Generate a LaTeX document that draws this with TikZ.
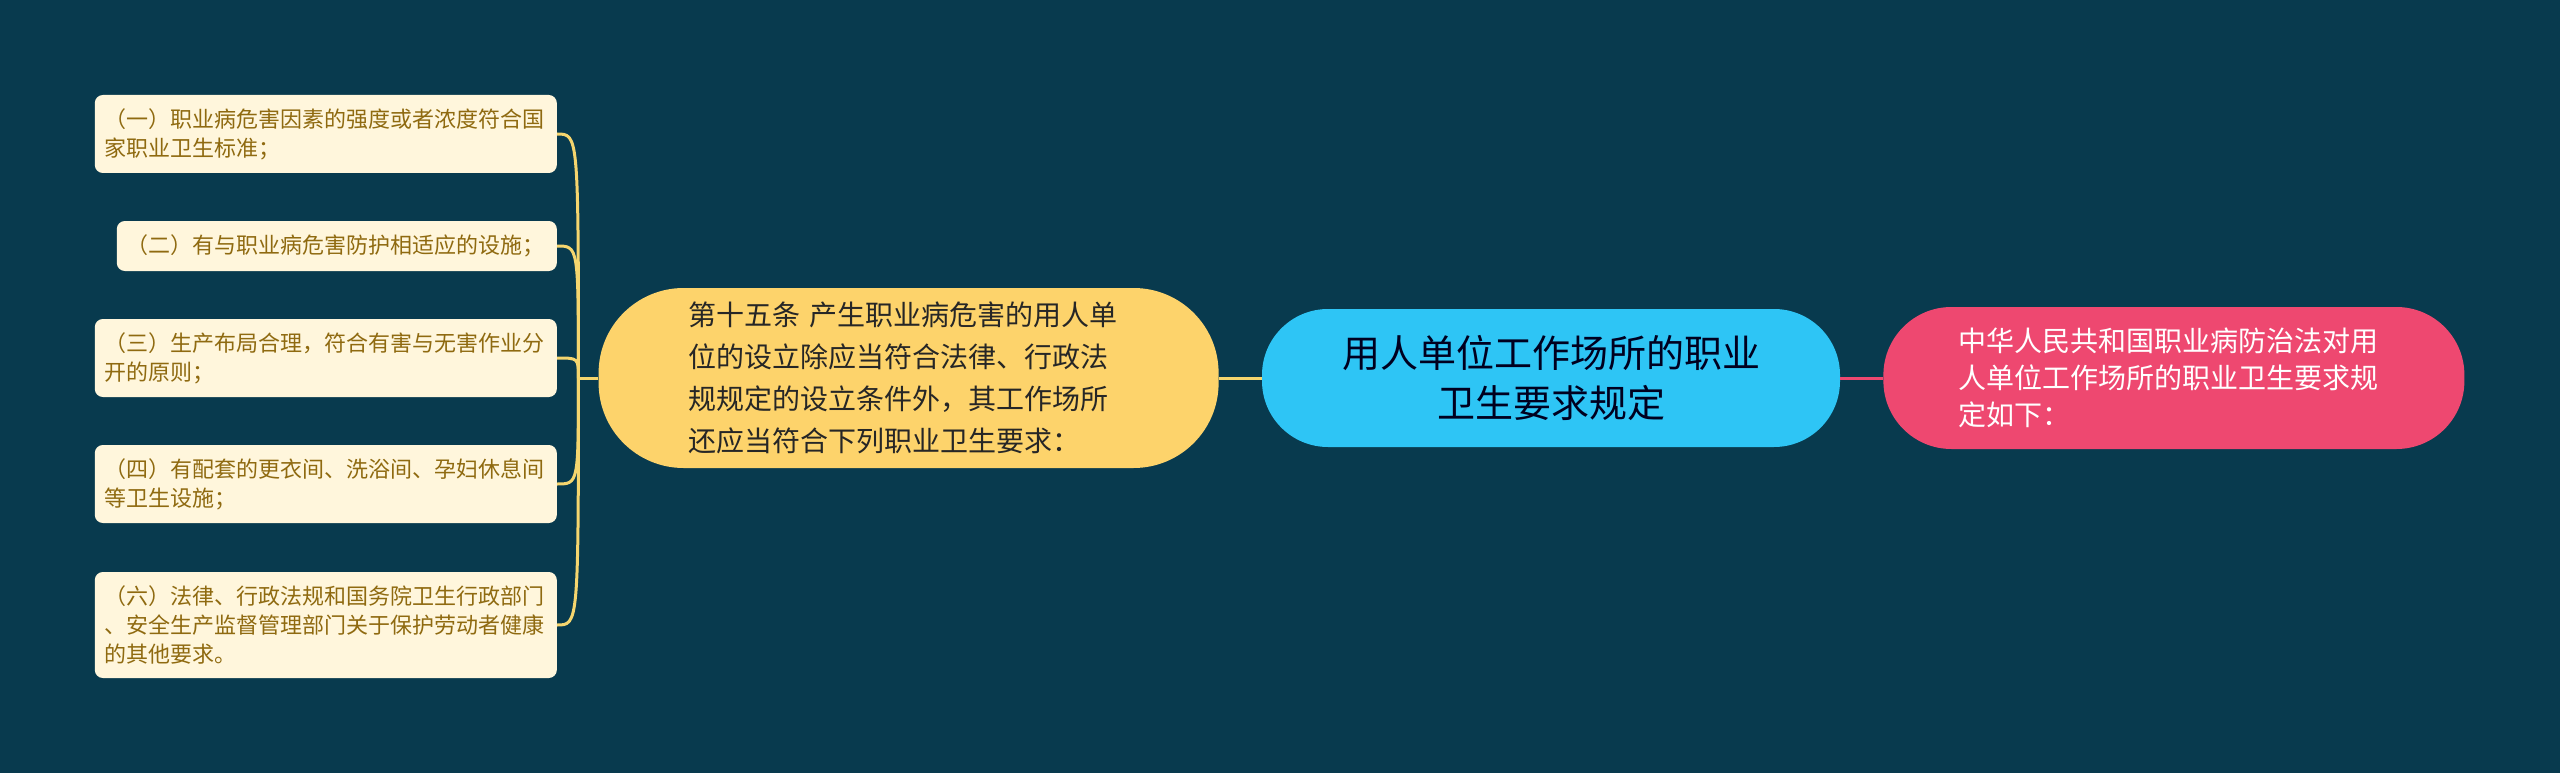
\documentclass[tikz,border=0pt]{standalone}
\usepackage{fontspec}
\setmainfont{Noto Sans CJK SC}
\usetikzlibrary{positioning}
\definecolor{bgcol}{HTML}{083A4E}
\definecolor{topicblue}{HTML}{2EC5F5}
\definecolor{subyellow}{HTML}{FDD36B}
\definecolor{notepink}{HTML}{EE4870}
\definecolor{leaffill}{HTML}{FFF6DC}
\definecolor{leaftext}{HTML}{8F6A10}
\definecolor{linkyellow}{HTML}{F5D56E}
\tikzset{
        x=1pt, y=-1pt, % one unit is one pixel of the picture, y runs down
        node distance=43pt, % gap between the three big nodes
        topic/.style={rectangle, rounded corners=66pt, fill=topicblue, text=black!80!blue!60!black, align=center,
                minimum width=578pt, minimum height=138pt, font=\fontsize{38}{50}\selectfont}, % the middle node
        subtopic/.style={rectangle, rounded corners=85pt, fill=subyellow, text=black!85, align=left, text width=440pt,
                minimum width=620pt, minimum height=180pt, font=\fontsize{28}{42}\selectfont}, % the yellow node
        note/.style={rectangle, rounded corners=68pt, fill=notepink, text=white, align=left, text width=430pt,
                minimum width=581pt, minimum height=142pt, font=\fontsize{28}{37}\selectfont}, % the pink node
        leaf/.style={rectangle, rounded corners=8pt, fill=leaffill, text=leaftext, align=left, anchor=east,
                inner xsep=10pt, inner ysep=0pt, font=\fontsize{22}{29}\selectfont}, % the small boxes on the left
        link/.style={line width=3pt, draw=linkyellow}, % yellow connectors
        }

\begin{document}
\begin{tikzpicture}
        \fill[bgcol] (0,0) rectangle (2560,773);
        \useasboundingbox (0,0) rectangle (2560,773);

        \node[topic] (Rules) at (1551,378) {用人单位工作场所的职业\\卫生要求规定};
        \node[note, right=of Rules] (Law) {中华人民共和国职业病防治法对用\\人单位工作场所的职业卫生要求规\\定如下：};
        \node[subtopic, left=of Rules] (Art) {第十五条 产生职业病危害的用人单\\位的设立除应当符合法律、行政法\\规规定的设立条件外，其工作场所\\还应当符合下列职业卫生要求：};
        \coordinate[left=20pt of Art.west] (Fork);

        \node[leaf, text width=442pt, minimum height=78pt] (One) at (557,134) {（一）职业病危害因素的强度或者浓度符合国\\家职业卫生标准；};
        \node[leaf, text width=420pt, minimum height=50pt] (Two) at (557,246) {（二）有与职业病危害防护相适应的设施；};
        \node[leaf, text width=442pt, minimum height=78pt] (Three) at (557,358) {（三）生产布局合理，符合有害与无害作业分\\开的原则；};
        \node[leaf, text width=442pt, minimum height=78pt] (Four) at (557,484) {（四）有配套的更衣间、洗浴间、孕妇休息间\\等卫生设施；};
        \node[leaf, text width=442pt, minimum height=106pt] (Six) at (557,625) {（六）法律、行政法规和国务院卫生行政部门\\、安全生产监督管理部门关于保护劳动者健康\\的其他要求。};

        \draw[link] (Rules) edge (Art);
        \draw[line width=3pt, draw=notepink] (Rules) edge (Law);
        \draw[link] (Art.west) -- (Fork);
        \foreach \leafname in {One, Two, Three, Four, Six}
                \draw[link] (\leafname.east) .. controls (Fork |- \leafname.east) and (Fork |- \leafname.east) .. (Fork);

\end{tikzpicture}
\end{document}
